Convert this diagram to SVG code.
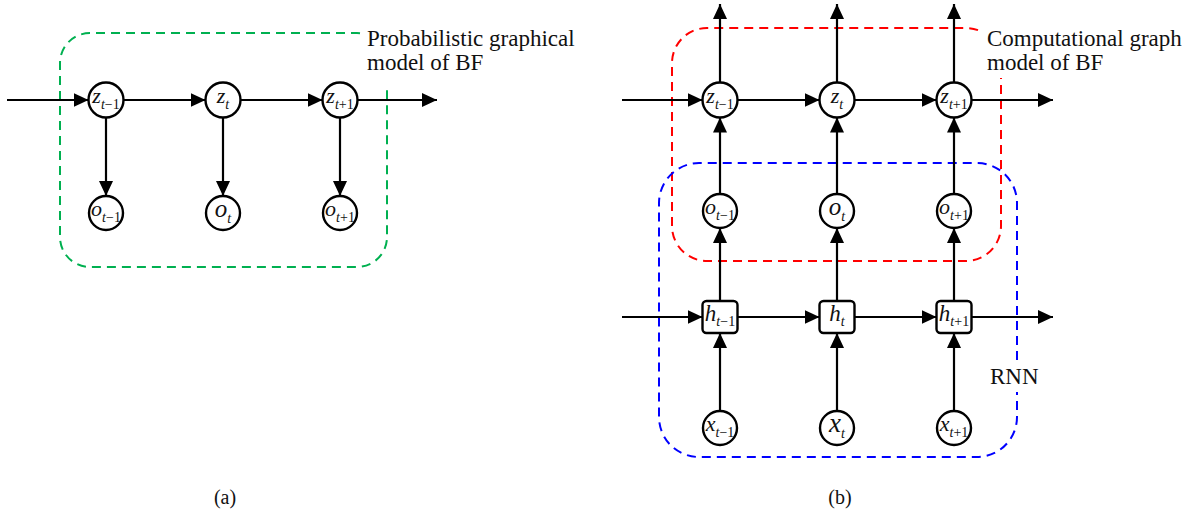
<svg xmlns="http://www.w3.org/2000/svg" width="1193" height="520" viewBox="0 0 1193 520">
<style>
.edge{stroke:#000;stroke-width:2.2;fill:none;marker-end:url(#ah)}
.node{fill:#fff;stroke:#000;stroke-width:2.4}
.lbl{font-family:"Liberation Serif","Times New Roman",serif;font-style:italic;font-size:22px;fill:#111;text-anchor:middle}
.sub{font-size:14px}
.num{font-style:normal}
.cap{font-family:"Liberation Serif","Times New Roman",serif;font-size:23px;fill:#111}
.box{fill:none;stroke-width:2;stroke-dasharray:9,6}
</style>
<defs>
<marker id="ah" markerUnits="userSpaceOnUse" markerWidth="15" markerHeight="14" refX="15" refY="7" orient="auto">
<path d="M0,0 L15,7 L0,14 z" fill="#000"/>
</marker>
</defs>
<rect width="1193" height="520" fill="#fff"/>

<g id="boxes">
<path id="green-box" class="box" stroke="#00B050" d="M360,33.2 A30,30 0 0 0 357,33 H90 A30,30 0 0 0 60,63 V237 A30,30 0 0 0 90,267 H357 A30,30 0 0 0 387,237 V89"/>
<path id="red-box" class="box" stroke="#FF0000" d="M978,30.1 A35,35 0 0 0 966,28 H707 A35,35 0 0 0 672,63 V226 A35,35 0 0 0 707,261 H966 A35,35 0 0 0 1001,226 V78"/>
<path id="blue-box" class="box" stroke="#0000FF" d="M1017,360 V203 A40,40 0 0 0 977,163 H699 A40,40 0 0 0 659,203 V417 A40,40 0 0 0 699,457 H977 A40,40 0 0 0 1017,417 V392"/>
</g>

<g id="connectors">
<line class="edge" x1="7" y1="100" x2="88.5" y2="100"/>
<line class="edge" x1="123.5" y1="100" x2="205.5" y2="100"/>
<line class="edge" x1="240.5" y1="100" x2="322.5" y2="100"/>
<line class="edge" x1="357.5" y1="100" x2="437" y2="100"/>
<line class="edge" x1="106" y1="117.5" x2="106" y2="196"/>
<line class="edge" x1="223" y1="117.5" x2="223" y2="196"/>
<line class="edge" x1="340" y1="117.5" x2="340" y2="196"/>

<line class="edge" x1="622" y1="100" x2="702.5" y2="100"/>
<line class="edge" x1="737.5" y1="100" x2="819.5" y2="100"/>
<line class="edge" x1="854.5" y1="100" x2="936.5" y2="100"/>
<line class="edge" x1="971.5" y1="100" x2="1053" y2="100"/>
<line class="edge" x1="622" y1="317" x2="702.5" y2="317"/>
<line class="edge" x1="737.5" y1="317" x2="819.5" y2="317"/>
<line class="edge" x1="854.5" y1="317" x2="936.5" y2="317"/>
<line class="edge" x1="971.5" y1="317" x2="1053" y2="317"/>

<line class="edge" x1="720" y1="82.5" x2="720" y2="4"/>
<line class="edge" x1="837" y1="82.5" x2="837" y2="4"/>
<line class="edge" x1="954" y1="82.5" x2="954" y2="4"/>
<line class="edge" x1="720" y1="194" x2="720" y2="117.5"/>
<line class="edge" x1="837" y1="194" x2="837" y2="117.5"/>
<line class="edge" x1="954" y1="194" x2="954" y2="117.5"/>
<line class="edge" x1="720" y1="301" x2="720" y2="228"/>
<line class="edge" x1="837" y1="301" x2="837" y2="228"/>
<line class="edge" x1="954" y1="301" x2="954" y2="228"/>
<line class="edge" x1="720" y1="411.5" x2="720" y2="333"/>
<line class="edge" x1="837" y1="411.5" x2="837" y2="333"/>
<line class="edge" x1="954" y1="411.5" x2="954" y2="333"/>
</g>

<g id="a-z1"><circle class="node" cx="106" cy="100" r="17.5"/><text class="lbl" x="106" y="103">z<tspan class="sub" dy="6">t</tspan><tspan class="sub num">−1</tspan></text></g>
<g id="a-z2"><circle class="node" cx="223" cy="100" r="17.5"/><text class="lbl" x="223" y="103">z<tspan class="sub" dy="6">t</tspan></text></g>
<g id="a-z3"><circle class="node" cx="340" cy="100" r="17.5"/><text class="lbl" x="340" y="103">z<tspan class="sub" dy="6">t</tspan><tspan class="sub num">+1</tspan></text></g>
<g id="a-o1"><circle class="node" cx="106" cy="213" r="17"/><text class="lbl" x="106" y="216">o<tspan class="sub" dy="6">t</tspan><tspan class="sub num">−1</tspan></text></g>
<g id="a-o2"><circle class="node" cx="223" cy="213" r="17"/><text class="lbl" x="223" y="217" style="font-size:25px">o<tspan class="sub" dy="6">t</tspan></text></g>
<g id="a-o3"><circle class="node" cx="340" cy="213" r="17"/><text class="lbl" x="340" y="216">o<tspan class="sub" dy="6">t</tspan><tspan class="sub num">+1</tspan></text></g>

<g id="b-z1"><circle class="node" cx="720" cy="100" r="17.5"/><text class="lbl" x="720" y="103">z<tspan class="sub" dy="6">t</tspan><tspan class="sub num">−1</tspan></text></g>
<g id="b-z2"><circle class="node" cx="837" cy="100" r="17.5"/><text class="lbl" x="837" y="103">z<tspan class="sub" dy="6">t</tspan></text></g>
<g id="b-z3"><circle class="node" cx="954" cy="100" r="17.5"/><text class="lbl" x="954" y="103">z<tspan class="sub" dy="6">t</tspan><tspan class="sub num">+1</tspan></text></g>
<g id="b-o1"><circle class="node" cx="720" cy="211" r="17"/><text class="lbl" x="720" y="214">o<tspan class="sub" dy="6">t</tspan><tspan class="sub num">−1</tspan></text></g>
<g id="b-o2"><circle class="node" cx="837" cy="211" r="17"/><text class="lbl" x="837" y="215" style="font-size:25px">o<tspan class="sub" dy="6">t</tspan></text></g>
<g id="b-o3"><circle class="node" cx="954" cy="211" r="17"/><text class="lbl" x="954" y="214">o<tspan class="sub" dy="6">t</tspan><tspan class="sub num">+1</tspan></text></g>
<g id="b-h1"><rect class="node" x="702.5" y="301" width="35" height="32" rx="4"/><text class="lbl" x="720" y="321" style="font-size:23px">h<tspan class="sub" dy="5">t</tspan><tspan class="sub num">−1</tspan></text></g>
<g id="b-h2"><rect class="node" x="819.5" y="301" width="35" height="32" rx="4"/><text class="lbl" x="837" y="321" style="font-size:23px">h<tspan class="sub" dy="5">t</tspan></text></g>
<g id="b-h3"><rect class="node" x="936.5" y="301" width="35" height="32" rx="4"/><text class="lbl" x="954" y="321" style="font-size:23px">h<tspan class="sub" dy="5">t</tspan><tspan class="sub num">+1</tspan></text></g>
<g id="b-x1"><circle class="node" cx="720" cy="428" r="17"/><text class="lbl" x="720" y="431">x<tspan class="sub" dy="6">t</tspan><tspan class="sub num">−1</tspan></text></g>
<g id="b-x2"><circle class="node" cx="837" cy="428" r="17"/><text class="lbl" x="837" y="432" style="font-size:27px">x<tspan class="sub" dy="6">t</tspan></text></g>
<g id="b-x3"><circle class="node" cx="954" cy="428" r="17"/><text class="lbl" x="954" y="431">x<tspan class="sub" dy="6">t</tspan><tspan class="sub num">+1</tspan></text></g>

<g id="labels">
<text class="cap" x="367" y="46">Probabilistic graphical</text>
<text class="cap" x="367" y="70">model of BF</text>
<text class="cap" x="987" y="46">Computational graph</text>
<text class="cap" x="987" y="70">model of BF</text>
<text class="cap" x="990" y="384">RNN</text>
<text class="cap" x="225" y="504" text-anchor="middle" style="font-size:20px">(a)</text>
<text class="cap" x="840" y="504" text-anchor="middle" style="font-size:20px">(b)</text>
</g>
</svg>
